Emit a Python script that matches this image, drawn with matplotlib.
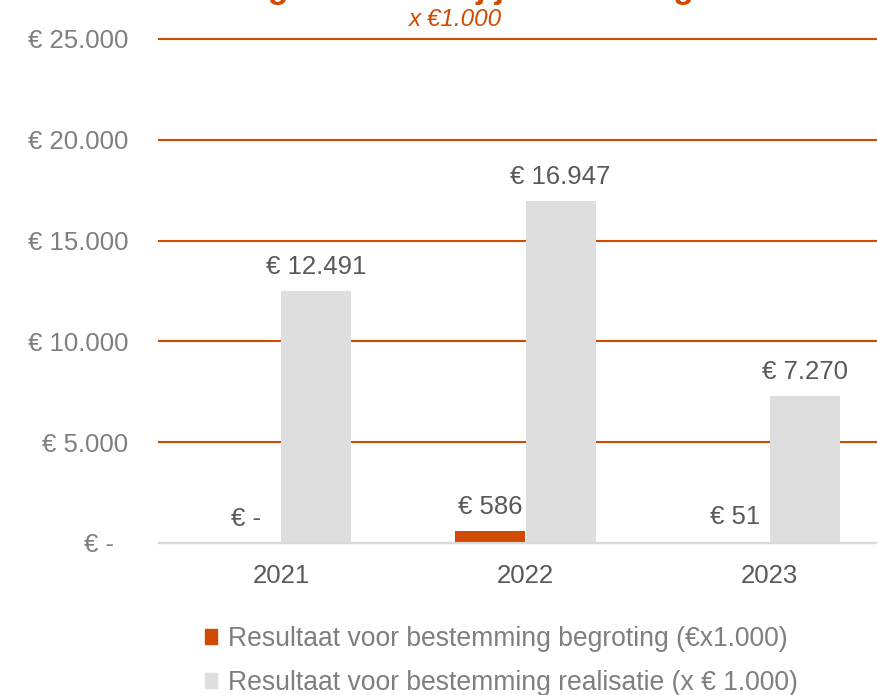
import matplotlib
matplotlib.use("Agg")
import matplotlib.pyplot as plt
from matplotlib.patches import Patch
from matplotlib.ticker import FuncFormatter
import numpy as np

plt.rcParams["font.family"] = ["Liberation Sans", "DejaVu Sans"]

years = ["2021", "2022", "2023"]
begroting = [0, 586, 51]
realisatie = [12491, 16947, 7270]
begroting_label = "Resultaat voor bestemming begroting (€x1.000)"
realisatie_label = "Resultaat voor bestemming realisatie (x € 1.000)"
y_ticks = [0, 5000, 10000, 15000, 20000, 25000]

ORANGE = "#D04A02"
GREY_BAR = "#DEDEDE"
TICK_GREY = "#7F7F7F"
LABEL_GREY = "#595959"


def euro(v):
    if v == 0:
        return "€ -"
    return "€ " + f"{v:,.0f}".replace(",", ".")


def euro_axis(v, _pos):
    # accounting style: the dash keeps some room on its right
    return "€ -  " if v == 0 else euro(v)


fig = plt.figure(figsize=(8.77, 6.95), dpi=100)
ax = fig.add_axes([159 / 877, 152 / 695, 733 / 877, 504 / 695])

x = np.arange(len(years))
w = 0.287
b1 = ax.bar(x - w / 2, begroting, w, color=ORANGE, zorder=3)
b2 = ax.bar(x + w / 2, realisatie, w, color=GREY_BAR, zorder=3)

for bars, vals in ((b1, begroting), (b2, realisatie)):
    for rect, v in zip(bars, vals):
        ax.annotate(euro(v), (rect.get_x() + rect.get_width() / 2, rect.get_height()),
                    xytext=(0, 9), textcoords="offset points", ha="center", va="bottom",
                    fontsize=18.5, color=LABEL_GREY)

ax.set_xlim(-0.5, 2.5)
ax.set_ylim(0, 25000)
ax.set_yticks(y_ticks)
ax.yaxis.set_major_formatter(FuncFormatter(euro_axis))
ax.set_xticks(x)
ax.set_xticklabels(years)
ax.tick_params(axis="y", length=0, pad=22, labelsize=18.5, labelcolor=TICK_GREY)
ax.tick_params(axis="x", length=0, pad=15, labelsize=18.5, labelcolor=LABEL_GREY)

ax.yaxis.grid(True, color=ORANGE, linewidth=1.5, zorder=0)
for gl in ax.get_ygridlines():
    gl.set_clip_on(False)
ax.set_axisbelow(True)

for side in ("top", "right", "left"):
    ax.spines[side].set_visible(False)
ax.spines["bottom"].set_color("#D9D9D9")
ax.spines["bottom"].set_linewidth(1.5)
ax.spines["bottom"].set_zorder(4)

# title sits mostly above the canvas, only its bottom edge shows
fig.text(387 / 877, 1 + 2 / 695, "Ontwikkeling resultaat bij jaarrekening", ha="center",
         va="baseline", fontsize=24, fontweight="bold", color=ORANGE)
fig.text(456 / 877, 1 - 20 / 695, "x €1.000", ha="center", va="center",
         fontsize=17.5, style="italic", color=ORANGE)

handles = [Patch(color=ORANGE), Patch(color=GREY_BAR)]
fig.legend(handles, [begroting_label, realisatie_label], loc="upper left",
           bbox_to_anchor=(205 / 877, 1 - 626 / 695), frameon=False,
           fontsize=19.1, labelcolor=TICK_GREY, handlelength=0.45, handleheight=0.5,
           handletextpad=0.42, labelspacing=0.68, borderpad=0, borderaxespad=0)

fig.savefig("out.png", dpi=100)
